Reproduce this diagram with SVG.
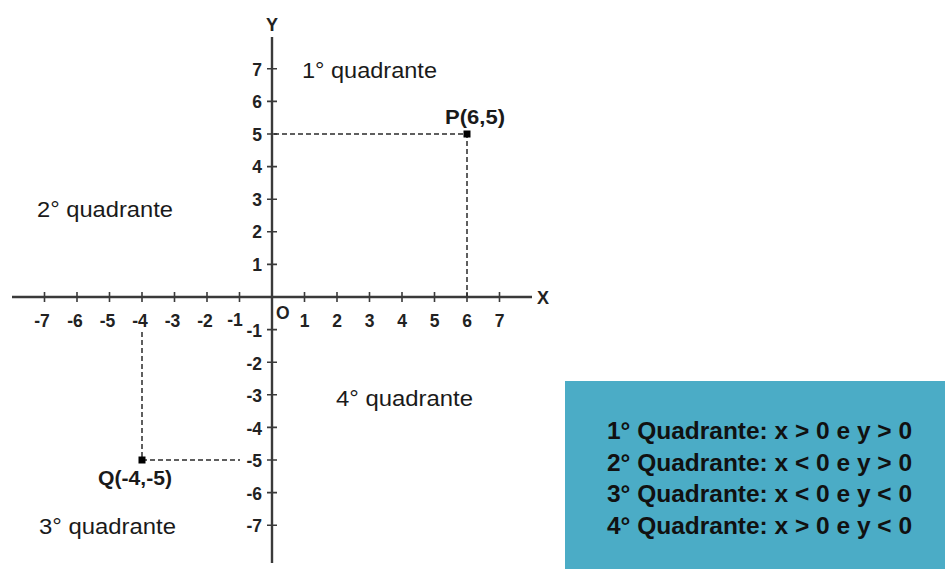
<svg xmlns="http://www.w3.org/2000/svg" width="945" height="569" viewBox="0 0 945 569">
<style>
.ax{stroke:#3a3a3a;stroke-width:2.4;fill:none}
.tk{stroke:#3a3a3a;stroke-width:1.6}
.dash{stroke:#2a2a2a;stroke-width:1.5;stroke-dasharray:5 3;fill:none}
.num{font-family:"Liberation Sans",Arial,sans-serif;font-weight:bold;font-size:17.5px;fill:#222}
.nx{text-anchor:middle}
.ny{text-anchor:end}
.axl{font-family:"Liberation Sans",Arial,sans-serif;font-weight:bold;font-size:18px;fill:#222;text-anchor:middle}
.q{font-family:"Liberation Sans",Arial,sans-serif;font-size:22.5px;fill:#1a1a1a}
.pt{font-family:"Liberation Sans",Arial,sans-serif;font-weight:bold;font-size:21px;fill:#1a1a1a}
.lg{font-family:"Liberation Sans",Arial,sans-serif;font-weight:bold;font-size:23.5px;fill:#111}
.mk{fill:#000}
</style>
<rect width="945" height="569" fill="#ffffff"/>
<g id="axes">
<line class="ax" x1="12" y1="297" x2="532" y2="297"/>
<line class="ax" x1="272" y1="37" x2="272" y2="563"/>
<text class="axl" x="543" y="303.5">X</text>
<text class="axl" x="272" y="31">Y</text>
<text class="num" x="276" y="318.5">O</text>
</g>
<g id="x-ticks">
<path class="tk" d="M44.5 292v10M77 292v10M109.5 292v10M142 292v10M174.5 292v10M207 292v10M239.5 292v10M304.5 292v10M337 292v10M369.5 292v10M402 292v10M434.5 292v10M467 292v10M499.5 292v10"/>
<text class="num nx" x="42" y="326.5">-7</text>
<text class="num nx" x="75" y="326.5">-6</text>
<text class="num nx" x="107.5" y="326.5">-5</text>
<text class="num nx" x="140" y="326.5">-4</text>
<text class="num nx" x="172.5" y="326.5">-3</text>
<text class="num nx" x="205" y="326.5">-2</text>
<text class="num nx" x="235" y="325.5">-1</text>
<text class="num nx" x="304.5" y="326.5">1</text>
<text class="num nx" x="337" y="326.5">2</text>
<text class="num nx" x="369.5" y="326.5">3</text>
<text class="num nx" x="402" y="326.5">4</text>
<text class="num nx" x="434.5" y="326.5">5</text>
<text class="num nx" x="467" y="326.5">6</text>
<text class="num nx" x="499.5" y="326.5">7</text>
</g>
<g id="y-ticks">
<path class="tk" d="M267 68.8h10M267 101.4h10M267 134h10M267 166.6h10M267 199.2h10M267 231.8h10M267 264.4h10M267 329.6h10M267 362.2h10M267 394.8h10M267 427.4h10M267 460h10M267 492.6h10M267 525.2h10"/>
<text class="num ny" x="262" y="75.5">7</text>
<text class="num ny" x="262" y="108">6</text>
<text class="num ny" x="262" y="140.5">5</text>
<text class="num ny" x="262" y="173">4</text>
<text class="num ny" x="262" y="205.5">3</text>
<text class="num ny" x="262" y="238">2</text>
<text class="num ny" x="262" y="270.5">1</text>
<text class="num ny" x="262" y="337">-1</text>
<text class="num ny" x="262" y="369.5">-2</text>
<text class="num ny" x="262" y="402">-3</text>
<text class="num ny" x="262" y="434.5">-4</text>
<text class="num ny" x="262" y="467">-5</text>
<text class="num ny" x="262" y="499.5">-6</text>
<text class="num ny" x="262" y="532">-7</text>
</g>
<g id="connectors">
<path class="dash" d="M274 134H467V296"/>
<path class="dash" d="M142 332V460H240"/>
</g>
<g id="point-P">
<rect class="mk" x="463.5" y="130.5" width="7" height="7"/>
<text class="pt" x="445" y="123.5" textLength="60" lengthAdjust="spacingAndGlyphs">P(6,5)</text>
</g>
<g id="point-Q">
<rect class="mk" x="138.5" y="456.5" width="7" height="7"/>
<text class="pt" x="98" y="484.5" textLength="74" lengthAdjust="spacingAndGlyphs">Q(-4,-5)</text>
</g>
<g id="quadrant-1"><text class="q" x="302" y="77.5" textLength="135" lengthAdjust="spacingAndGlyphs">1° quadrante</text></g>
<g id="quadrant-2"><text class="q" x="37" y="216.5" textLength="136" lengthAdjust="spacingAndGlyphs">2° quadrante</text></g>
<g id="quadrant-3"><text class="q" x="39" y="533.5" textLength="137" lengthAdjust="spacingAndGlyphs">3° quadrante</text></g>
<g id="quadrant-4"><text class="q" x="336" y="405.5" textLength="137" lengthAdjust="spacingAndGlyphs">4° quadrante</text></g>
<g id="legend">
<rect x="565" y="381" width="380" height="188" fill="#4BACC6"/>
<text class="lg" x="607" y="439" textLength="305" lengthAdjust="spacingAndGlyphs">1° Quadrante: x &gt; 0 e y &gt; 0</text>
<text class="lg" x="607" y="470.5" textLength="305" lengthAdjust="spacingAndGlyphs">2° Quadrante: x &lt; 0 e y &gt; 0</text>
<text class="lg" x="607" y="502" textLength="305" lengthAdjust="spacingAndGlyphs">3° Quadrante: x &lt; 0 e y &lt; 0</text>
<text class="lg" x="607" y="533.5" textLength="305" lengthAdjust="spacingAndGlyphs">4° Quadrante: x &gt; 0 e y &lt; 0</text>
</g>
</svg>
